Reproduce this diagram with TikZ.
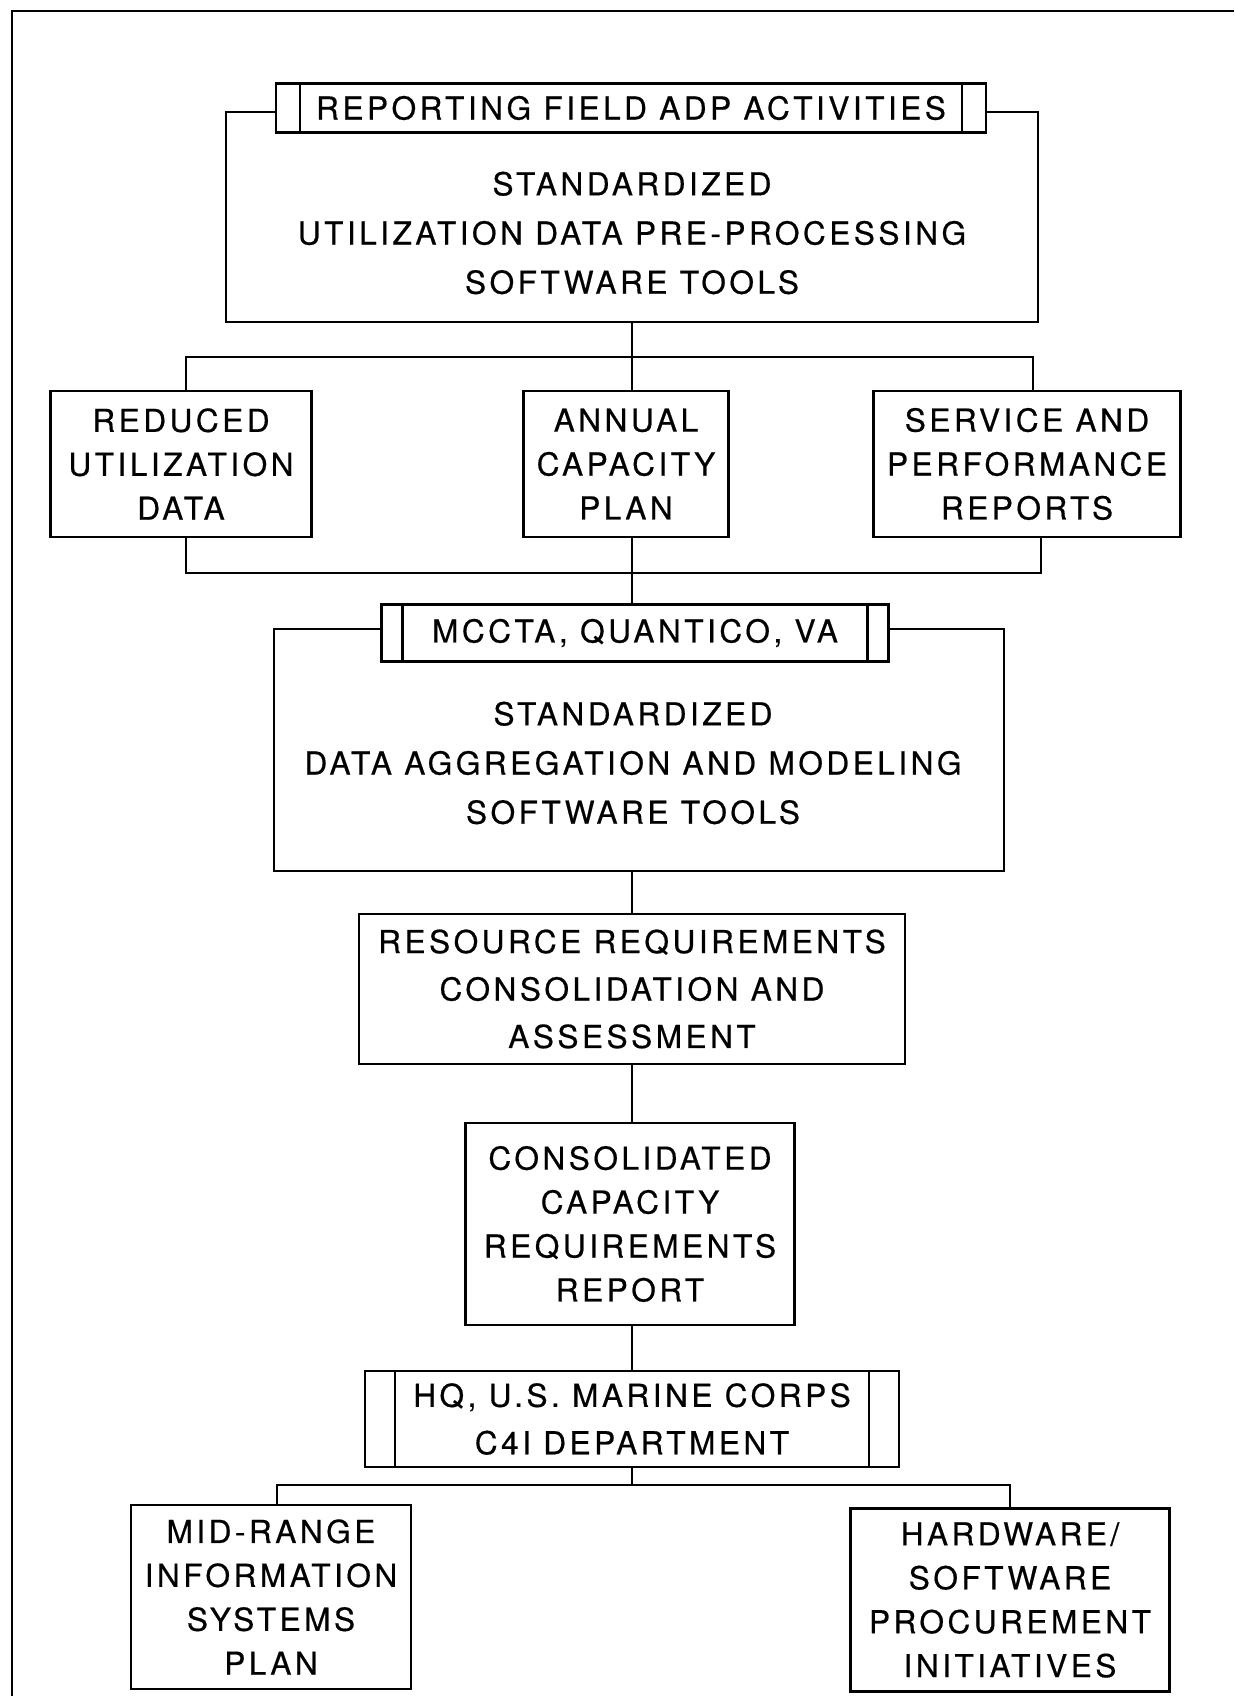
\documentclass[tikz,border=0pt]{standalone}
\usepackage{fontspec}
\setmainfont[LetterSpace=11,FakeBold=0.5]{TeX Gyre Heros}
\tikzset{
  txt/.style={align=center,font=\fontsize{18}{#1}\selectfont},
  txt/.default=25pt,
  box/.style={draw,txt,inner sep=0pt},
  % title bar with a narrow end cell on each side
  tab/.style={draw,fill=white,txt=27pt,inner sep=0pt,
    path picture={
      \draw[line width=1.5pt]([xshift=#1]path picture bounding box.north west)--([xshift=#1]path picture bounding box.south west);
      \draw[line width=1.5pt]([xshift=-#1]path picture bounding box.north east)--([xshift=-#1]path picture bounding box.south east);
    }},
}
\begin{document}
\begin{tikzpicture}[x=0.02cm,y=-0.02cm,line width=1.5pt]
\useasboundingbox(0,0)rectangle(1234,1696);
\draw(12,1696)--(12,11)--(1234,11);
% field level
\node[box,minimum width=16.24cm,minimum height=4.2cm](toolsA)at(632,217){};
\node[txt=28pt](toolsAtxt)at(632,233){STANDARDIZED\\UTILIZATION DATA PRE-PROCESSING\\SOFTWARE TOOLS};
\node[tab=0.48cm,minimum width=14.2cm,minimum height=0.98cm](hdrA)at(631,108){REPORTING FIELD ADP ACTIVITIES};
\node[box,minimum width=5.22cm,minimum height=2.92cm](reduced)at(181,464){REDUCED\\UTILIZATION\\DATA};
\node[box,minimum width=4.1cm,minimum height=2.92cm](annual)at(626,464){ANNUAL\\CAPACITY\\PLAN};
\node[box,minimum width=6.14cm,minimum height=2.92cm](service)at(1027,464){SERVICE AND\\PERFORMANCE\\REPORTS};
% MCCTA level
\node[box,minimum width=14.6cm,minimum height=4.84cm](toolsB)at(639,750){};
\node[txt=28pt](toolsBtxt)at(633,763){STANDARDIZED\\DATA AGGREGATION AND MODELING\\SOFTWARE TOOLS};
\node[tab=0.42cm,minimum width=10.14cm,minimum height=1.14cm](hdrB)at(635,633){MCCTA, QUANTICO, VA};
\node[box=27pt,minimum width=10.92cm,minimum height=3cm,txt=27pt](resource)at(632,989){RESOURCE REQUIREMENTS\\CONSOLIDATION AND\\ASSESSMENT};
\node[box,minimum width=6.58cm,minimum height=4.04cm](consol)at(630,1224){CONSOLIDATED\\CAPACITY\\REQUIREMENTS\\REPORT};
% HQ level
\node[tab=0.6cm,minimum width=10.68cm,minimum height=1.92cm](hdrC)at(632,1419){HQ, U.S. MARINE CORPS\\C4I DEPARTMENT};
\node[box,minimum width=5.6cm,minimum height=3.68cm](midrange)at(271,1597){MID-RANGE\\INFORMATION\\SYSTEMS\\PLAN};
\node[box,minimum width=6.38cm,minimum height=3.66cm](hardware)at(1010,1600){HARDWARE/\\SOFTWARE\\PROCUREMENT\\INITIATIVES};
% connectors
\coordinate(busA)at(632,357);
\coordinate(busB)at(632,573);
\coordinate(busC)at(632,1485);
\draw(toolsA.south)--(busA);
\draw([xshift=0.1cm]reduced.north)|-(busA)-|([xshift=0.12cm]service.north);
\draw(busA)--(busA|-annual.north);
\draw([xshift=0.1cm]reduced.south)|-(busB)-|([xshift=0.28cm]service.south);
\draw(busB|-annual.south)--(busB|-hdrB.north);
\draw(busB|-toolsB.south)--(busB|-resource.north);
\draw(resource.south)--(resource.south|-consol.north);
\draw(resource.south|-consol.south)--(hdrC.north);
\draw(hdrC.south)--(busC);
\draw([xshift=0.12cm]midrange.north)|-(busC)-|(hardware.north);
\end{tikzpicture}
\end{document}
